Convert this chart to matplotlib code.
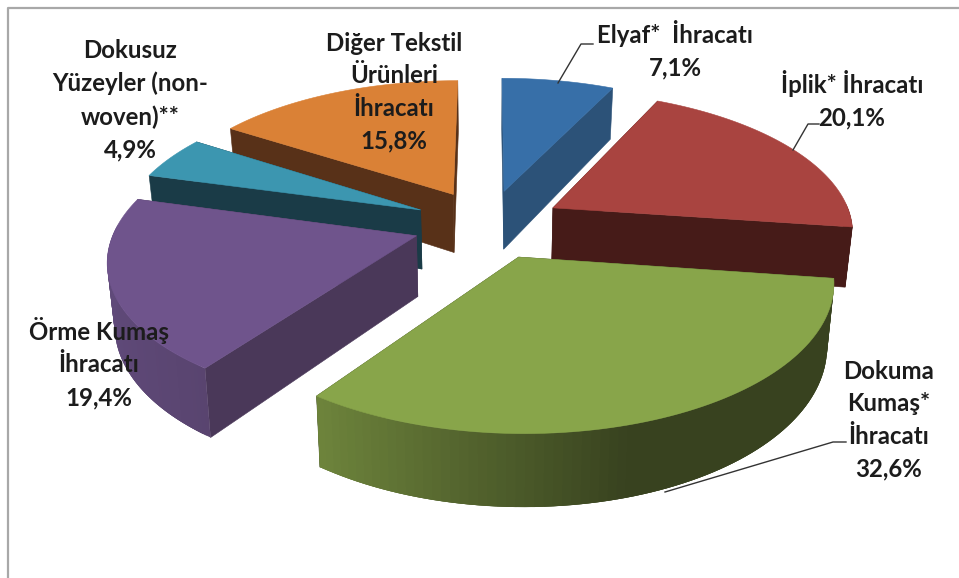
"""Exploded 3D pie of textile export shares, projected by hand onto a flat axes."""
import matplotlib

matplotlib.use("Agg")
import matplotlib.pyplot as plt
import numpy as np
from matplotlib.colors import to_rgb

NAMES = ["Elyaf*  İhracatı", "İplik* İhracatı", "Dokuma\nKumaş*\nİhracatı",
         "Örme Kumaş\nİhracatı", "Dokusuz\nYüzeyler (non-\nwoven)**", "Diğer Tekstil\nÜrünleri\nİhracatı"]
VALUES = [7.1, 20.1, 32.6, 19.4, 4.9, 15.8]

TOPS = ["#376fa8", "#a94440", "#88a54a", "#6f548c", "#3c96b0", "#da8136"]
FACES = ["#2c5278", "#461b18", "#38421f", "#4a3859", "#1a3b47", "#583118"]
WALL_LIGHT = ["#2c5278", "#4a1c19", "#88a54a", "#604a7a", "#1a3b47", "#583118"]

LABEL_POS = [(675, 50), (852, 100), (889, 420), (99, 363), (130, 100), (394, 92)]
LEADERS = [[(558, 83), (581, 44), (593, 44)],
           [(793, 150), (808, 124), (819, 124)],
           [(665, 492), (833, 442), (846, 442)]]
DRAW_ORDER = [5, 0, 4, 1, 3, 2]

CX, CY = 488, 224     # screen position of the pie centre
A, B = 300, 139       # horizontal and vertical radius on screen
K = 0.15              # perspective strength
DEPTH = 60            # pie thickness in px
EXPLODE = 0.25
INK = "#1c1c1c"


def project(x, y, z=0.0):
    w = 1 + K * y
    return CX + A * x / (w * (1 + 0.02 * z)), CY - B * y / w + DEPTH * z / w


def mix(light, dark, t):
    light, dark = np.array(to_rgb(light)), np.array(to_rgb(dark))
    return tuple(dark + (light - dark) * t)


def draw_wedge(ax, start, end, top, face, wall_light):
    mid = (start + end) / 2
    ox, oy = EXPLODE * np.sin(mid), EXPLODE * np.cos(mid)
    th = np.linspace(start, end, 80)
    rim_x, rim_y = ox + np.sin(th), oy + np.cos(th)

    # radial faces, far one first
    for t in sorted([start, end], key=lambda a: -np.cos(a)):
        ex, ey = ox + np.sin(t), oy + np.cos(t)
        pts = [project(ox, oy), project(ex, ey), project(ex, ey, 1), project(ox, oy, 1)]
        ax.fill(*zip(*pts), color=face, lw=0.4, zorder=1)

    # outer wall, strips overlap a little so no seams show between shades
    for i in range(len(th) - 1):
        j = min(i + 3, len(th) - 1)
        if np.cos(th[i]) > 0.05:
            continue
        t = np.clip((0.3 - np.sin(th[i])) / 1.3, 0, 1)
        pts = [project(rim_x[i], rim_y[i]), project(rim_x[j], rim_y[j]),
               project(rim_x[j], rim_y[j], 1), project(rim_x[i], rim_y[i], 1)]
        ax.fill(*zip(*pts), color=mix(wall_light, face, t), lw=0, zorder=1)

    # top surface
    px, py = project(np.r_[ox, rim_x], np.r_[oy, rim_y])
    ax.fill(px, py, color=top, lw=0.4, zorder=1)


def main():
    plt.rcParams["font.family"] = ["Lato", "DejaVu Sans"]
    fig = plt.figure(figsize=(9.59, 5.78), dpi=100)
    ax = fig.add_axes([0, 0, 1, 1])
    ax.set_xlim(0, 959)
    ax.set_ylim(578, 0)
    ax.axis("off")

    # chart frame, cut off by the screenshot on the right and at the bottom
    ax.plot([8, 8, 959], [578, 8, 8], color="#a8a8a8", lw=1.6, zorder=0)

    edges = np.cumsum([0] + VALUES) / sum(VALUES) * 2 * np.pi
    for i in DRAW_ORDER:
        draw_wedge(ax, edges[i], edges[i + 1], TOPS[i], FACES[i], WALL_LIGHT[i])

    for line in LEADERS:
        ax.plot(*zip(*line), color="#333333", lw=1.0, zorder=2)

    for name, val, (x, y) in zip(NAMES, VALUES, LABEL_POS):
        ax.text(x, y, f"{name}\n{val:.1f}%".replace(".", ","), ha="center", va="center",
                fontsize=17.3, fontweight="bold", color=INK, linespacing=1.5, zorder=3)

    fig.savefig("out.png", dpi=100)
    plt.close(fig)


if __name__ == "__main__":
    main()
